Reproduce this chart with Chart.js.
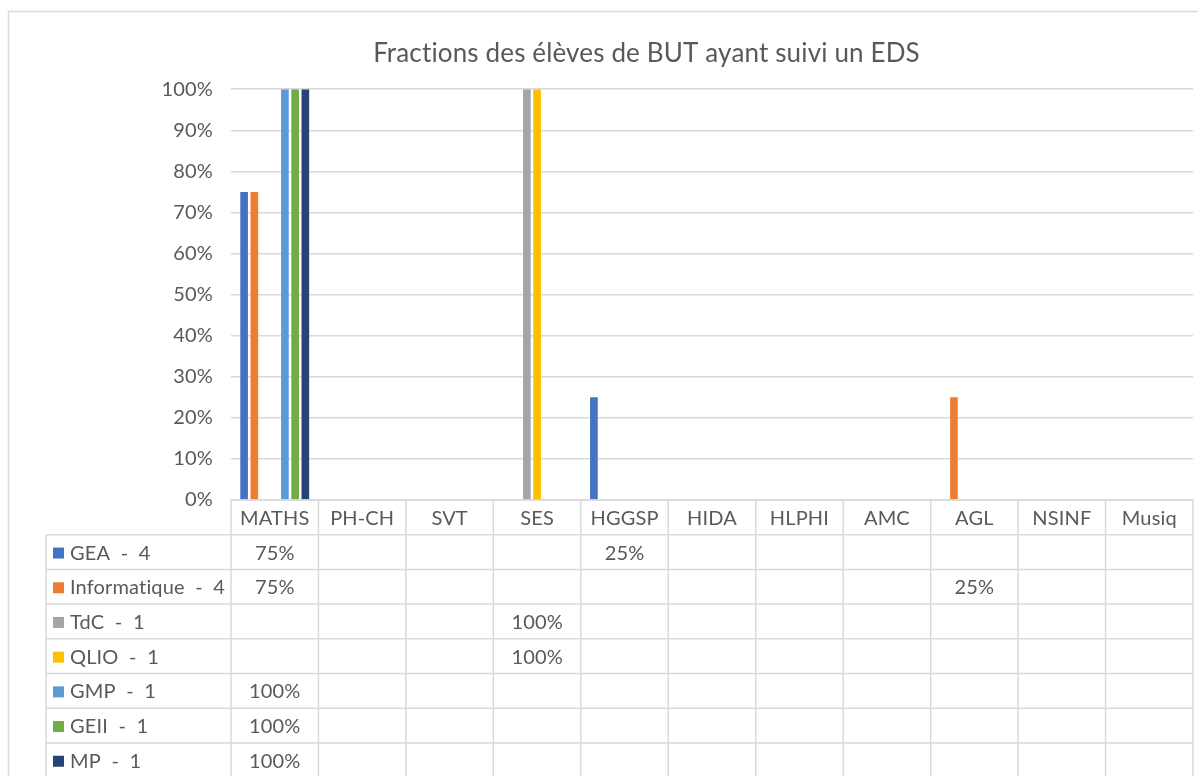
<!DOCTYPE html>
<html>
<head>
<meta charset="utf-8">
<script src="https://cdn.jsdelivr.net/npm/chart.js@4/dist/chart.umd.min.js"></script>
<style>
body { margin: 0; background: #fff; overflow: hidden; }
#wrap { width: 1198px; height: 776px; position: relative; }
</style>
</head>
<body>
<div id="wrap"><canvas id="edsChart"></canvas></div>
<script>
const subjects = ['MATHS', 'PH-CH', 'SVT', 'SES', 'HGGSP', 'HIDA', 'HLPHI', 'AMC', 'AGL', 'NSINF', 'Musiq'];
const seriesNames = ['GEA  -  4', 'Informatique  -  4', 'TdC  -  1', 'QLIO  -  1', 'GMP  -  1', 'GEII  -  1', 'MP  -  1'];
const gea  = [75, null, null, null, 25, null, null, null, null, null, null];
const info = [75, null, null, null, null, null, null, null, 25, null, null];
const tdc  = [null, null, null, 100, null, null, null, null, null, null, null];
const qlio = [null, null, null, 100, null, null, null, null, null, null, null];
const gmp  = [100, null, null, null, null, null, null, null, null, null, null];
const geii = [100, null, null, null, null, null, null, null, null, null, null];
const mp   = [100, null, null, null, null, null, null, null, null, null, null];
const yTicks = [0, 10, 20, 30, 40, 50, 60, 70, 80, 90, 100];

const colors = ['#4472C4', '#ED7D31', '#A5A5A5', '#FFC000', '#5B9BD5', '#70AD47', '#264478'];
const allSeries = [gea, info, tdc, qlio, gmp, geii, mp];

const textColor = '#595959';
const lineColor = '#d9d9d9';
const fontFamily = 'Lato, "Open Sans", sans-serif';
const rowHeight = 34.7;
const tableLeft = 46;

// outer frame of the chart; also turns off the "ti" ligature for all canvas text
const framePlugin = {
    id: 'frame',
    beforeDraw(chart) {
        const ctx = chart.ctx;
        ctx.letterSpacing = '0.15px';
        ctx.save();
        ctx.strokeStyle = lineColor;
        ctx.lineWidth = 1.5;
        ctx.strokeRect(8.5, 11.5, chart.width + 50, chart.height + 50);
        ctx.restore();
    }
};

// data table under the plot, columns follow the x scale
const tablePlugin = {
    id: 'dataTable',
    afterDraw(chart) {
        const ctx = chart.ctx;
        const x = chart.scales.x;
        const area = chart.chartArea;
        const top = area.bottom;
        const colW = (area.right - area.left) / subjects.length;
        const nRows = seriesNames.length + 1;
        const bottom = top + nRows * rowHeight;

        ctx.save();
        ctx.strokeStyle = lineColor;
        ctx.lineWidth = 1.5;
        ctx.beginPath();
        // header top
        ctx.moveTo(area.left, top);
        ctx.lineTo(area.right, top);
        // row lines
        for (let r = 1; r <= nRows; r++) {
            const y = top + r * rowHeight;
            ctx.moveTo(tableLeft, y);
            ctx.lineTo(area.right, y);
        }
        // column lines
        for (let c = 0; c <= subjects.length; c++) {
            const xx = area.left + c * colW;
            ctx.moveTo(xx, top);
            ctx.lineTo(xx, bottom);
        }
        ctx.moveTo(tableLeft, top + rowHeight);
        ctx.lineTo(tableLeft, bottom);
        ctx.stroke();

        ctx.letterSpacing = '0.15px';
        ctx.font = '20px ' + fontFamily;
        ctx.fillStyle = textColor;
        ctx.textBaseline = 'middle';
        ctx.textAlign = 'center';
        subjects.forEach((s, i) => {
            ctx.fillText(s, x.getPixelForValue(i), top + rowHeight / 2 + 1);
        });

        allSeries.forEach((vals, r) => {
            const cy = top + (r + 1.5) * rowHeight + 1;
            ctx.fillStyle = colors[r];
            ctx.fillRect(tableLeft + 7, cy - 5.5, 11, 11);
            ctx.fillStyle = textColor;
            ctx.textAlign = 'left';
            ctx.fillText(seriesNames[r], tableLeft + 24, cy);
            ctx.textAlign = 'center';
            vals.forEach((v, i) => {
                if (v !== null) ctx.fillText(v + '%', x.getPixelForValue(i), cy);
            });
        });
        ctx.restore();
    }
};

const ctx = document.getElementById('edsChart').getContext('2d');
const edsChart = new Chart(ctx, {
    type: 'bar',
    data: {
        labels: subjects,
        datasets: allSeries.map((vals, i) => ({
            label: seriesNames[i],
            data: vals,
            backgroundColor: colors[i],
            categoryPercentage: 0.817,
            barPercentage: 0.75
        }))
    },
    options: {
        responsive: true,
        maintainAspectRatio: false,
        animation: false,
        layout: { padding: { left: 100, right: 5, top: 0, bottom: 0 } },
        plugins: {
            legend: { display: false },
            tooltip: { enabled: false },
            title: {
                display: true,
                text: 'Fractions des élèves de BUT ayant suivi un EDS',
                color: textColor,
                font: { family: fontFamily, size: 26, weight: 'normal' },
                padding: { top: 38, bottom: 20 }
            }
        },
        scales: {
            x: {
                ticks: { display: false },
                grid: { display: false },
                border: { display: false },
                afterFit(scale) { scale.height = 276; }
            },
            y: {
                min: 0,
                max: 100,
                afterBuildTicks(scale) { scale.ticks = yTicks.map(v => ({ value: v })); },
                ticks: {
                    color: textColor,
                    padding: 18,
                    font: { family: fontFamily, size: 20 },
                    callback: v => v + '%'
                },
                grid: { color: lineColor, lineWidth: 1.5, drawTicks: false },
                border: { display: false },
                afterFit(scale) { scale.width = 131; }
            }
        }
    },
    plugins: [framePlugin, tablePlugin]
});
</script>
</body>
</html>
